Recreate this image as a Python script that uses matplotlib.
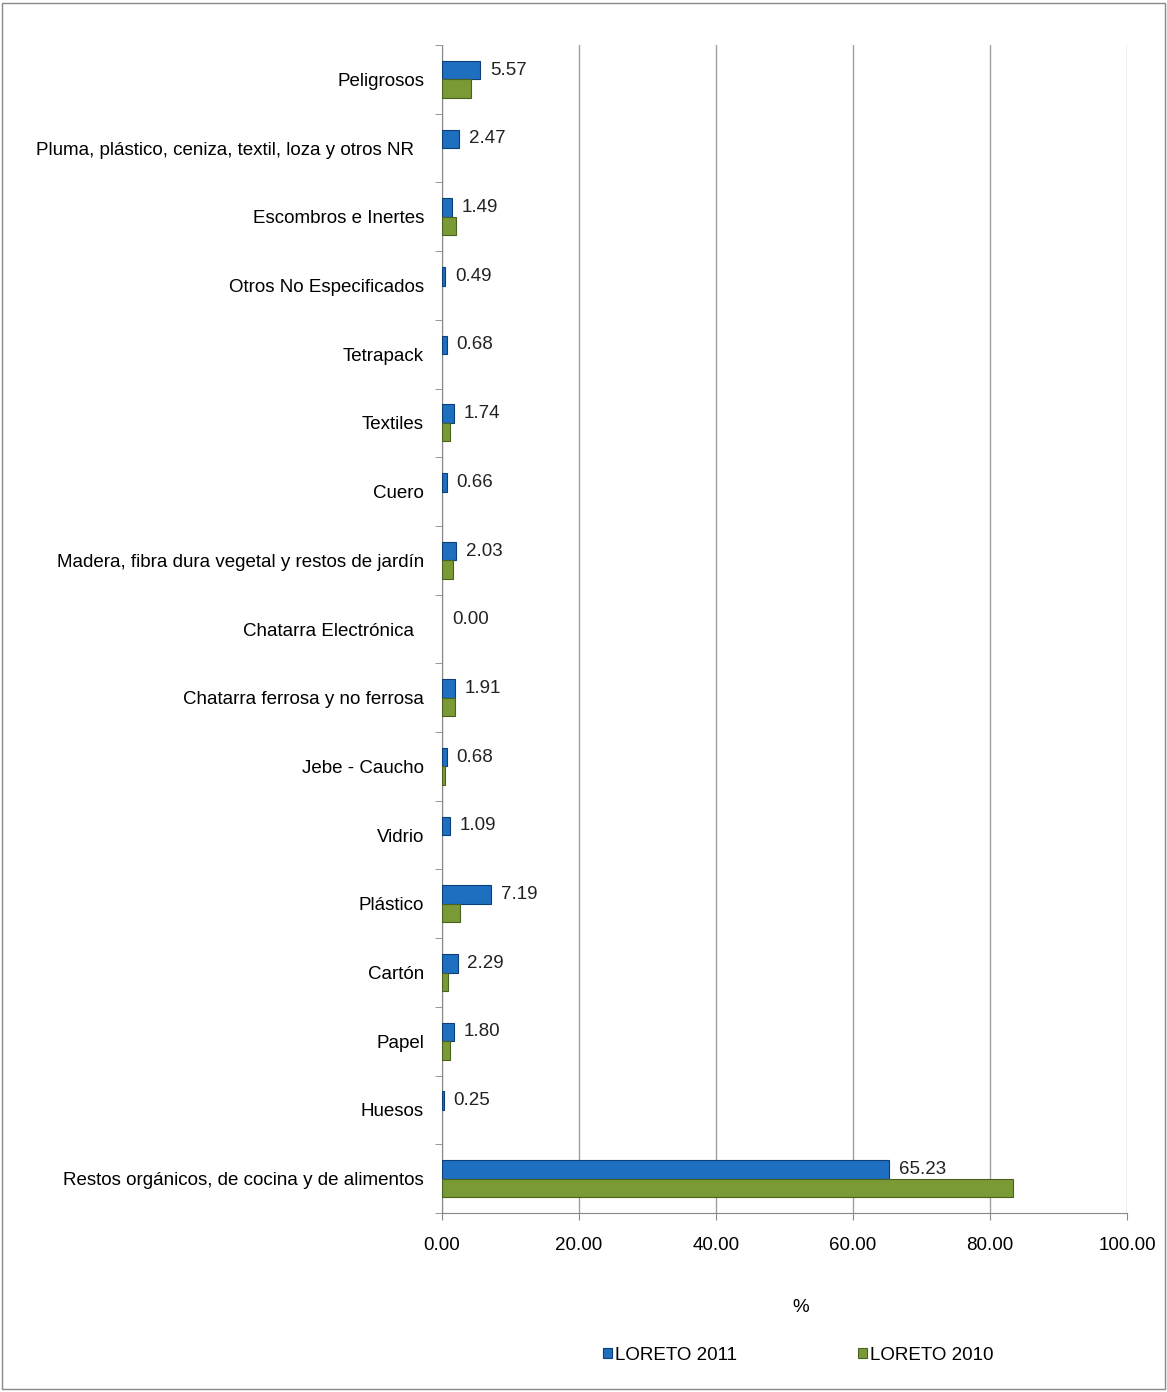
import numpy as np
import matplotlib.pyplot as plt
from matplotlib.patches import Rectangle

plt.rcParams['font.family'] = ['Liberation Sans', 'DejaVu Sans']

# categories from bottom to top
categories = ['Restos orgánicos, de cocina y de alimentos', 'Huesos', 'Papel', 'Cartón',
              'Plástico', 'Vidrio', 'Jebe - Caucho', 'Chatarra ferrosa y no ferrosa',
              'Chatarra Electrónica  ', 'Madera, fibra dura vegetal y restos de jardín',
              'Cuero', 'Textiles', 'Tetrapack', 'Otros No Especificados',
              'Escombros e Inertes', 'Pluma, plástico, ceniza, textil, loza y otros NR  ',
              'Peligrosos']
loreto_2011 = [65.23, 0.25, 1.80, 2.29, 7.19, 1.09, 0.68, 1.91, 0.00, 2.03,
               0.66, 1.74, 0.68, 0.49, 1.49, 2.47, 5.57]
loreto_2010 = [83.4, 0.0, 1.1, 0.8, 2.6, 0.0, 0.5, 1.9, 0.0, 1.65,
               0.0, 1.1, 0.0, 0.0, 2.0, 0.0, 4.2]
xticks = [0, 20, 40, 60, 80, 100]

blue = '#1e6fc0'
blue_edge = '#0d3f7a'
green = '#7a9a35'
green_edge = '#4a6220'
fs = 13.5

fig = plt.figure(figsize=(11.67, 13.92), dpi=100)
ax = fig.add_axes([0.3788, 0.1286, 0.587, 0.839])

y = np.arange(len(categories))
h = 0.27
lw11 = [0.8 if v > 0 else 0 for v in loreto_2011]
lw10 = [0.8 if v > 0 else 0 for v in loreto_2010]
ax.barh(y + h / 2, loreto_2011, height=h, color=blue, edgecolor=blue_edge,
        linewidth=lw11, label='LORETO 2011', zorder=3)
ax.barh(y - h / 2, loreto_2010, height=h, color=green, edgecolor=green_edge,
        linewidth=lw10, label='LORETO 2010', zorder=3)

for yi, v in zip(y, loreto_2011):
    ax.annotate(f'{v:.2f}', (v, yi + h / 2), xytext=(7, 0), textcoords='offset points',
                va='center', ha='left', fontsize=fs, color='#222222')

ax.set_xlim(0, 100)
ax.set_ylim(-0.5, len(categories) - 0.5)
ax.set_xticks(xticks)
ax.set_xticklabels([f'{t:.2f}' for t in xticks], fontsize=fs)
ax.set_yticks(y)
ax.set_yticklabels(categories, fontsize=fs)
ax.tick_params(axis='y', length=0, pad=13)
ax.set_yticks(np.arange(len(categories) + 1) - 0.5, minor=True)
ax.tick_params(axis='y', which='minor', length=5, color='#888888')
ax.tick_params(axis='x', length=5, color='#888888', pad=12)
ax.grid(axis='x', color='#a0a0a0', linewidth=1, zorder=0)
for s in ['top', 'right']:
    ax.spines[s].set_visible(False)
for s in ['left', 'bottom']:
    ax.spines[s].set_color('#888888')
ax.set_xlabel('%', fontsize=fs)
ax.xaxis.set_label_coords(0.523, -0.074)

ax.legend(loc='upper center', bbox_to_anchor=(0.52, -0.1), ncol=2, frameon=False,
          fontsize=fs, handlelength=0.45, handleheight=0.45, handletextpad=0.15,
          columnspacing=6.5)

fig.patches.append(Rectangle((0.002, 0.002), 0.996, 0.996, transform=fig.transFigure,
                             fill=False, edgecolor='#888888', linewidth=1))

fig.savefig('out.png', dpi=100)
